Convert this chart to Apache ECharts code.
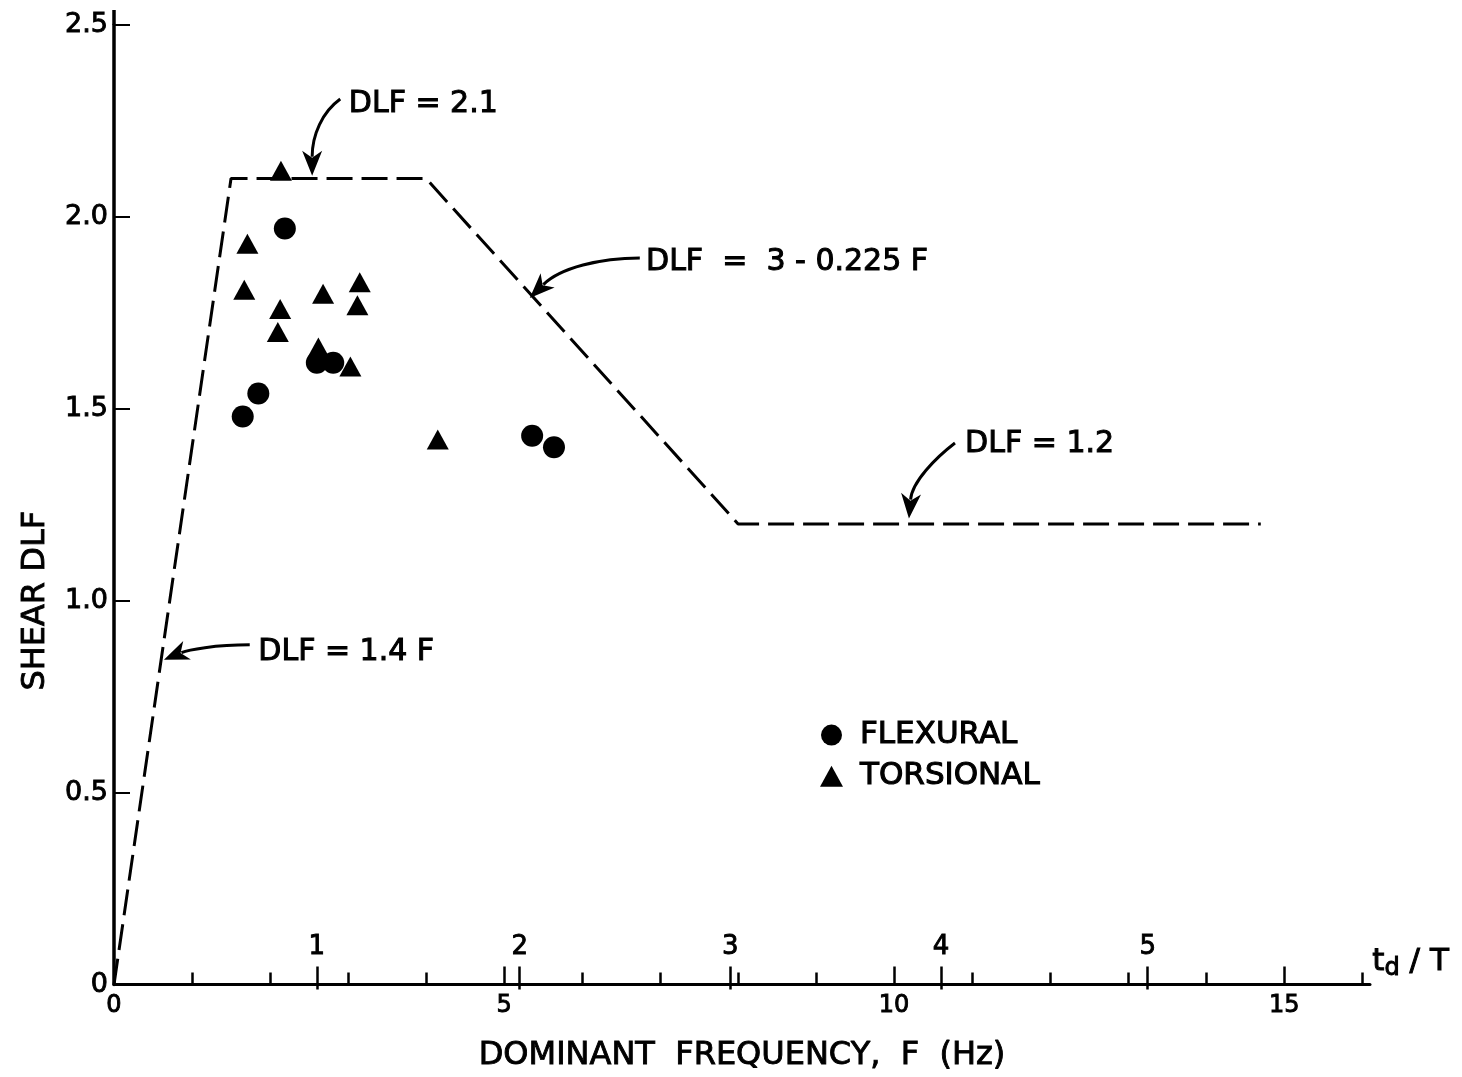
<!DOCTYPE html>
<html>
<head>
<meta charset="utf-8">
<title>Shear DLF vs Dominant Frequency</title>
<script src="https://cdn.jsdelivr.net/npm/echarts@6/dist/echarts.min.js"></script>
<style>
  html, body { margin: 0; padding: 0; background: #fff; }
  #chart { width: 1462px; height: 1077px; }
</style>
</head>
<body>
<div id="chart"></div>
<script>
// Design envelope: DLF = 1.4F, DLF = 2.1, DLF = 3 - 0.225F, DLF = 1.2
const envelopeF   = [0, 1.5, 4, 8, 14.7];
const envelopeDLF = [0, 2.1, 2.1, 1.2, 1.2];

// Measured shear DLF, flexural modes
const flexuralF   = [1.65, 1.85, 2.19, 2.60, 2.81, 5.36, 5.64];
const flexuralDLF = [1.48, 1.54, 1.97, 1.62, 1.62, 1.43, 1.40];

// Measured shear DLF, torsional modes
const torsionalF   = [2.14, 1.71, 1.67, 2.68, 3.15, 3.12, 2.13, 2.10, 2.62, 3.03, 4.15];
const torsionalDLF = [2.12, 1.93, 1.81, 1.80, 1.83, 1.77, 1.76, 1.70, 1.66, 1.61, 1.42];

// Axis ticks
const freqLabels      = [0, 5, 10, 15];
const freqMajorTicks  = [5, 10, 15];
const freqMinorTicks  = [1, 2, 3, 4, 6, 7, 8, 9, 11, 12, 13, 14, 16];
const ratioLabels     = ['1', '2', '3', '4', '5'];      // t_d / T
const ratioAtFreq     = [2.6, 5.2, 7.9, 10.6, 13.25];   // F position of each t_d / T tick
const dlfTicks        = [0, 0.5, 1.0, 1.5, 2.0, 2.5];

// Annotation callouts: label anchor (left-middle) and arrow bezier [start, cp1, cp2, tip]
const calloutTexts   = ['DLF = 2.1', 'DLF  =  3 - 0.225 F', 'DLF = 1.2', 'DLF = 1.4 F'];
const calloutAnchors = [[3.01, 2.294], [6.82, 1.883], [10.91, 1.409], [1.85, 0.867]];
const calloutArrows  = [
  [[2.90, 2.307], [2.67, 2.273], [2.54, 2.214], [2.54, 2.107]],
  [[6.74, 1.893], [6.23, 1.893], [5.72, 1.867], [5.33, 1.789]],
  [[10.78, 1.411], [10.53, 1.372], [10.23, 1.310], [10.19, 1.214]],
  [[1.74, 0.885], [1.29, 0.885], [0.95, 0.872], [0.64, 0.846]]
];

const FONT = '"DejaVu Sans", "Liberation Sans", sans-serif';
const INK = '#000';
// a thin outline in the text colour gives the lettering its heavier pen weight
const heavy = { textBorderColor: INK, textBorderWidth: 0.9 };

const chart = echarts.init(document.getElementById('chart'), null, { renderer: 'canvas' });

const F_MAX = 16.1;
const sharedX = { type: 'value', min: 0, max: F_MAX, position: 'bottom', splitLine: { show: false } };

const option = {
  backgroundColor: '#fff',
  animation: false,
  grid: { left: 114, right: 92, top: 25, bottom: 92, containLabel: false },
  xAxis: [
    Object.assign({}, sharedX, {
      name: 'DOMINANT  FREQUENCY,  F  (Hz)',
      nameLocation: 'middle',
      nameGap: 55,
      nameTextStyle: Object.assign({ fontFamily: FONT, fontSize: 32, color: INK }, heavy),
      axisLine: { show: true, lineStyle: { color: INK, width: 3 } },
      axisTick: { show: true, inside: true, length: 18, customValues: freqMajorTicks,
                  lineStyle: { color: INK, width: 2.5 } },
      axisLabel: Object.assign({ show: true, customValues: freqLabels, margin: 9,
                   fontFamily: FONT, fontSize: 24, color: INK }, heavy)
    }),
    Object.assign({}, sharedX, {
      axisLine: { show: false },
      axisTick: { show: true, inside: true, length: 12, customValues: freqMinorTicks,
                  lineStyle: { color: INK, width: 2.5 } },
      axisLabel: { show: false }
    }),
    Object.assign({}, sharedX, {
      axisLine: { show: false },
      axisTick: { show: true, inside: true, length: 18, customValues: ratioAtFreq,
                  lineStyle: { color: INK, width: 2.5 } },
      axisLabel: Object.assign({ show: true, inside: true, margin: 24, customValues: ratioAtFreq,
                   fontFamily: FONT, fontSize: 26, color: INK,
                   formatter: function (v) {
                     let best = 0;
                     ratioAtFreq.forEach(function (f, i) {
                       if (Math.abs(f - v) < Math.abs(ratioAtFreq[best] - v)) best = i;
                     });
                     return ratioLabels[best];
                   } }, heavy)
    }),
    Object.assign({}, sharedX, {
      axisLine: { show: false },
      axisTick: { show: true, inside: false, length: 5, customValues: ratioAtFreq,
                  lineStyle: { color: INK, width: 2.5 } },
      axisLabel: { show: false }
    })
  ],
  yAxis: {
    type: 'value',
    min: 0,
    max: 2.5,
    interval: 0.5,
    splitLine: { show: false },
    axisLine: { show: true, lineStyle: { color: INK, width: 3.5 } },
    axisTick: { show: true, inside: true, length: 16, customValues: dlfTicks,
                lineStyle: { color: INK, width: 2 } },
    axisLabel: Object.assign({ show: true, margin: 6, fontFamily: FONT, fontSize: 27, color: INK,
                 customValues: dlfTicks,
                 formatter: function (v) { return v === 0 ? '0' : v.toFixed(1); } }, heavy)
  },
  legend: {
    orient: 'vertical',
    left: 815,
    top: 714,
    itemWidth: 23,
    itemHeight: 21,
    itemGap: 9,
    data: ['FLEXURAL', 'TORSIONAL'],
    textStyle: Object.assign({ fontFamily: FONT, fontSize: 31, lineHeight: 28, color: INK,
                 padding: [0, 0, 0, 12] }, { textBorderColor: INK, textBorderWidth: 1.1 })
  },
  series: [
    {
      name: 'Design envelope',
      type: 'line',
      xAxisIndex: 0,
      symbol: 'none',
      lineStyle: { color: INK, width: 3, type: [26, 9] },
      data: envelopeF.map(function (f, i) { return [f, envelopeDLF[i]]; }),
      z: 2
    },
    {
      name: 'FLEXURAL',
      type: 'scatter',
      xAxisIndex: 0,
      symbol: 'circle',
      symbolSize: 22,
      itemStyle: { color: INK, opacity: 1 },
      data: flexuralF.map(function (f, i) { return [f, flexuralDLF[i]]; }),
      z: 3
    },
    {
      name: 'TORSIONAL',
      type: 'scatter',
      xAxisIndex: 0,
      symbol: 'triangle',
      symbolSize: [22, 20],
      itemStyle: { color: INK, opacity: 1 },
      data: torsionalF.map(function (f, i) { return [f, torsionalDLF[i]]; }),
      z: 3
    }
  ]
};

chart.setOption(option);

// Callouts, arrows and extra labels placed through the chart's own coordinate system
function px(pt) {
  return chart.convertToPixel({ xAxisIndex: 0, yAxisIndex: 0 }, pt);
}

const graphics = [];

calloutTexts.forEach(function (txt, i) {
  const a = px(calloutAnchors[i]);
  graphics.push({
    type: 'text', x: a[0], y: a[1], z: 10,
    style: { text: txt, fill: INK, font: '30px ' + FONT, align: 'left', verticalAlign: 'middle',
             stroke: INK, lineWidth: 1 }
  });

  const p = calloutArrows[i].map(px);
  const tip = p[3], c2 = p[2];
  let dx = tip[0] - c2[0], dy = tip[1] - c2[1];
  const len = Math.sqrt(dx * dx + dy * dy) || 1;
  dx /= len; dy /= len;
  const headLen = 25, headHalf = 10;
  const base = [tip[0] - dx * headLen, tip[1] - dy * headLen];
  graphics.push({
    type: 'bezierCurve', z: 10,
    shape: { x1: p[0][0], y1: p[0][1], cpx1: p[1][0], cpy1: p[1][1],
             cpx2: p[2][0], cpy2: p[2][1], x2: base[0] + dx * 6, y2: base[1] + dy * 6 },
    style: { stroke: INK, lineWidth: 3, fill: null }
  });
  graphics.push({
    type: 'polygon', z: 10,
    shape: { points: [
      tip,
      [base[0] - dy * headHalf, base[1] + dx * headHalf],
      [base[0] + dx * 7, base[1] + dy * 7],
      [base[0] + dy * headHalf, base[1] - dx * headHalf]
    ] },
    style: { fill: INK }
  });
});

// Vertical axis title
const yTitle = px([-1.0, 1.0]);
graphics.push({
  type: 'text', x: yTitle[0], y: yTitle[1], rotation: Math.PI / 2, z: 10,
  style: { text: 'SHEAR DLF', fill: INK, font: '32px ' + FONT, align: 'center', verticalAlign: 'middle',
           stroke: INK, lineWidth: 0.9 }
});

// Secondary scale title t_d / T
const ratioTitle = px([16.13, 0.06]);
graphics.push({
  type: 'text', x: ratioTitle[0], y: ratioTitle[1], z: 10,
  style: {
    text: '{t|t}{d|d}{s| / T}',
    verticalAlign: 'middle', align: 'left', fill: INK,
    rich: {
      t: { fontFamily: FONT, fontSize: 31, fill: INK, stroke: INK, lineWidth: 1 },
      d: { fontFamily: FONT, fontSize: 24, fill: INK, stroke: INK, lineWidth: 1, padding: [14, 0, 0, 0] },
      s: { fontFamily: FONT, fontSize: 31, fill: INK, stroke: INK, lineWidth: 1 }
    }
  }
});

// Short extension of the vertical axis line above the top tick
const yTop = px([0, 2.5]);
graphics.push({
  type: 'line', z: 5,
  shape: { x1: yTop[0], y1: yTop[1], x2: yTop[0], y2: yTop[1] - 15 },
  style: { stroke: INK, lineWidth: 3.5 }
});

chart.setOption({ graphic: graphics });
</script>
</body>
</html>
